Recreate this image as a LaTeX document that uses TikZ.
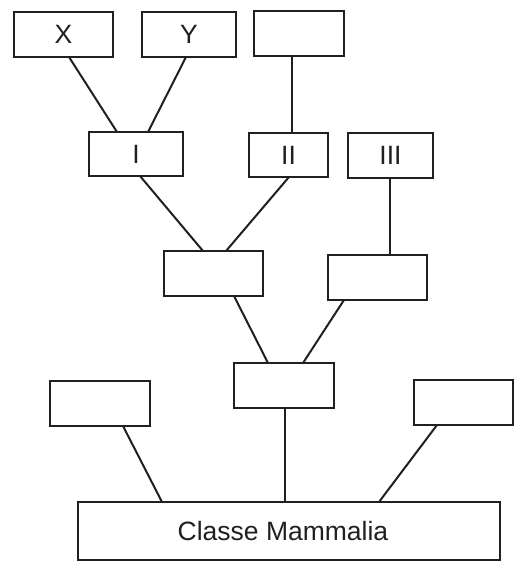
\documentclass[tikz,border=0pt]{standalone}
\usepackage{fontspec}
\setmainfont{Liberation Sans}
\definecolor{ink}{HTML}{231F20}
\begin{document}
\begin{tikzpicture}[x=1pt,y=-1pt,
  box/.style={draw=ink,line width=2.2pt,inner sep=0pt,outer sep=0pt,fill=white,font=\fontsize{26.5}{30}\selectfont,text=ink},
  link/.style={draw=ink,line width=2pt}]
\useasboundingbox (0,0) rectangle (531,572);
\node[box,minimum width=99,minimum height=45] (X) at (63.5,34.5) {X};
\node[box,minimum width=94,minimum height=45] (Y) at (189,34.5) {Y};
\node[box,minimum width=90,minimum height=45] (T) at (299,33.5) {};
\node[box,minimum width=94,minimum height=44] (I) at (136,154) {I};
\node[box,minimum width=79,minimum height=44] (II) at (288.5,155) {II};
\node[box,minimum width=85,minimum height=45] (III) at (390.5,155.5) {III};
\node[box,minimum width=99,minimum height=45] (ML) at (213.5,273.5) {};
\node[box,minimum width=99,minimum height=45] (MR) at (377.5,277.5) {};
\node[box,minimum width=100,minimum height=45] (C) at (284,385.5) {};
\node[box,minimum width=100,minimum height=45] (LB) at (100,403.5) {};
\node[box,minimum width=99,minimum height=45] (RB) at (463.5,402.5) {};
\node[box,minimum width=422,minimum height=58] (CM) at (289,531) {Classe Mammalia\hspace*{12pt}};
\draw[link] ([xshift=5.5]X.south) -- ([xshift=-19]I.north);
\draw[link] ([xshift=-3]Y.south) -- ([xshift=12]I.north);
\draw[link] ([xshift=-7]T.south) -- ([xshift=3.5]II.north);
\draw[link] ([xshift=4]I.south) -- ([xshift=-10.5]ML.north);
\draw[link] ([xshift=0.5]II.south) -- ([xshift=12.5]ML.north);
\draw[link] ([xshift=-0.5]III.south) -- ([xshift=12.5]MR.north);
\draw[link] ([xshift=20.5]ML.south) -- ([xshift=-16]C.north);
\draw[link] ([xshift=-33.5]MR.south) -- ([xshift=19]C.north);
\draw[link] ([xshift=23]LB.south) -- ([xshift=-127]CM.north);
\draw[link] ([xshift=1]C.south) -- ([xshift=-4]CM.north);
\draw[link] ([xshift=-26.5]RB.south) -- ([xshift=90]CM.north);
\end{tikzpicture}
\end{document}
